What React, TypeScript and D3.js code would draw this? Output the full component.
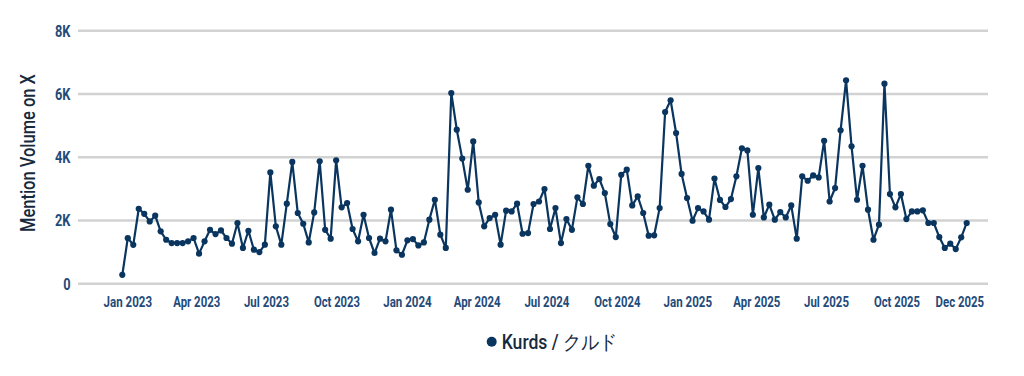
import React from "react";
import * as d3 from "d3";

// Weekly mention volume for "Kurds / クルド" (155 weeks, late Dec 2022 – Dec 2025)
const seriesName = "Kurds / クルド";
const mentions: number[] = [
  280, 1440, 1230, 2370, 2210, 1970, 2150, 1655, 1390, 1285,
  1285, 1285, 1340, 1445, 950, 1340, 1705, 1570, 1685, 1445,
  1265, 1920, 1130, 1675, 1075, 1000, 1235, 3520, 1815, 1235,
  2530, 3850, 2235, 1895, 1305, 2255, 3870, 1705, 1425, 3900,
  2415, 2550, 1730, 1340, 2180, 1445, 970, 1425, 1340, 2340,
  1055, 915, 1370, 1410, 1210, 1305, 2025, 2655, 1550, 1130,
  6030, 4870, 3955, 2970, 4500, 2570, 1815, 2075, 2180, 1235,
  2310, 2285, 2530, 1580, 1600, 2520, 2600, 2995, 1730, 2390,
  1285, 2045, 1705, 2730, 2520, 3730, 3100, 3310, 2865, 1885,
  1475, 3445, 3605, 2475, 2760, 2235, 1520, 1530, 2390, 5430,
  5800, 4765, 3470, 2710, 1990, 2390, 2285, 2025, 3325, 2650,
  2425, 2675, 3395, 4280, 4215, 2180, 3655, 2095, 2500, 2025,
  2265, 2095, 2475, 1425, 3395, 3255, 3425, 3360, 4520, 2600,
  3025, 4850, 6430, 4345, 2655, 3730, 2340, 1390, 1865, 6325,
  2835, 2415, 2835, 2045, 2285, 2285, 2320, 1920, 1920, 1475,
  1130, 1265, 1095, 1465, 1920,
];

const yTicks: number[] = [0, 2000, 4000, 6000, 8000];
const yTickLabels: string[] = ["0", "2K", "4K", "6K", "8K"];
// quarterly ticks plus a final tick at the last week of data
const xTickDates: Date[] = [
  new Date(2023, 0, 1), new Date(2023, 3, 1), new Date(2023, 6, 1), new Date(2023, 9, 1),
  new Date(2024, 0, 1), new Date(2024, 3, 1), new Date(2024, 6, 1), new Date(2024, 9, 1),
  new Date(2025, 0, 1), new Date(2025, 3, 1), new Date(2025, 6, 1), new Date(2025, 9, 1),
  new Date(2025, 11, 22),
];
const yTitle = "Mention Volume on X";

const W = 1024;
const H = 376;
const plotLeft = 78;
const plotRight = 988;
const yTop = 30.7;
const yBottom = 283.7;

const LINE = "#09355f";
const TICK = "#1f4b7a";
const DARK = "#172a3d";
const GRID = "#d2d2d2";
const FONT = "Roboto, 'Noto Sans', sans-serif";
// rendered label widths (condensed face) by month of year
const labelWidthByMonth: Record<number, number> = { 0: 48.5, 3: 47, 6: 45, 9: 46, 11: 48.5 };

export default function App() {
  const y = d3.scaleLinear().domain([0, 8000]).range([yBottom, yTop]);
  const xIdx = d3.scaleLinear().domain([0, mentions.length - 1]).range([122.3, 966.7]);
  const xTime = d3
    .scaleTime()
    .domain([new Date(2023, 0, 1), new Date(2025, 9, 1)])
    .range([127.8, 897]);
  const fmt = d3.timeFormat("%b %Y");

  const line = d3
    .line<number>()
    .x((_, i) => xIdx(i))
    .y((d) => y(d));

  return (
    <svg
      width={W}
      height={H}
      style={{ position: "absolute", left: 0, top: 0, display: "block", background: "#fff" }}
    >
      {yTicks.map((t, i) => (
        <g key={"g" + t}>
          <line x1={plotLeft} x2={plotRight} y1={y(t)} y2={y(t)} stroke={GRID} strokeWidth={2.6} />
          <text
            transform={`translate(70.5,${y(t) + 5.8}) scale(0.8,1)`}
            textAnchor="end"
            fontFamily={FONT}
            fontWeight={700}
            fontSize={16}
            fill={TICK}
          >
            {yTickLabels[i]}
          </text>
        </g>
      ))}
      {xTickDates.map((d) => {
        const w = labelWidthByMonth[d.getMonth()] ?? 47;
        const xx = xTime(d) - w / 2;
        return (
          <text
            key={+d}
            x={xx}
            y={306.7}
            textLength={w}
            lengthAdjust="spacingAndGlyphs"
            fontFamily={FONT}
            fontWeight={700}
            fontSize={14.5}
            fill={TICK}
          >
            {fmt(d)}
          </text>
        );
      })}
      <text
        transform="translate(34.5,153) rotate(-90)"
        textAnchor="middle"
        fontFamily={FONT}
        fontWeight={500}
        fontSize={20}
        textLength={158}
        lengthAdjust="spacingAndGlyphs"
        fill={DARK}
      >
        {yTitle}
      </text>
      <path d={line(mentions) || ""} fill="none" stroke={LINE} strokeWidth={2.2} strokeLinejoin="round" />
      {mentions.map((v, i) => (
        <circle key={i} cx={xIdx(i)} cy={y(v)} r={3.1} fill={LINE} />
      ))}
      <g>
        <circle cx={491.7} cy={341.7} r={5} fill={LINE} />
        <text
          x={501.7}
          y={348.6}
          fontFamily={FONT}
          fontWeight={500}
          fontSize={19.5}
          textLength={115.5}
          lengthAdjust="spacingAndGlyphs"
          fill={DARK}
        >
          {seriesName}
        </text>
      </g>
    </svg>
  );
}
